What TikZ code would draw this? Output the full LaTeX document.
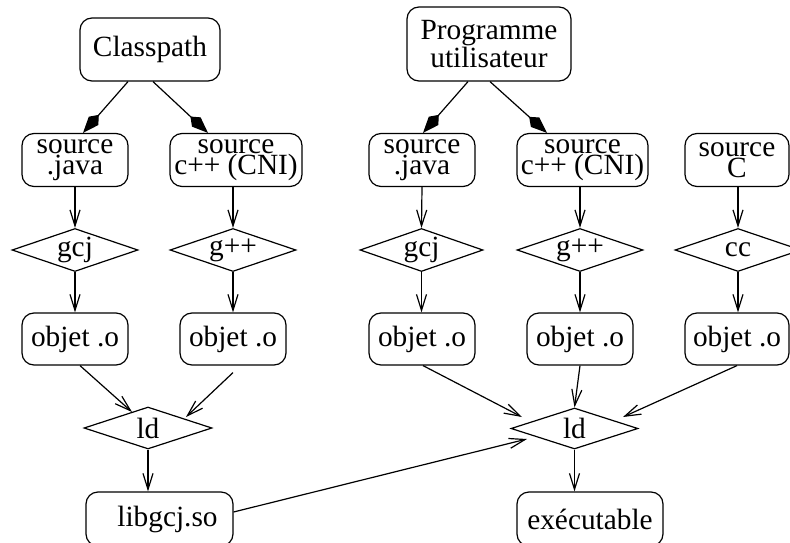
\documentclass[tikz,border=0pt]{standalone}
\usepackage{fontspec}
\setmainfont{Liberation Serif}
\usetikzlibrary{shapes.geometric,arrows.meta,calc}
\begin{document}
\begin{tikzpicture}[x=0.75pt,y=-0.75pt,
  line width=0.9pt,
  font=\fontsize{22}{16}\selectfont,
  sz/.style 2 args={minimum width=#1*0.75pt, minimum height=#2*0.75pt},
  box/.style={draw, rounded corners=9pt, inner sep=0pt, align=center},
  tool/.style={draw, diamond, shape aspect=3, inner sep=0pt},
  flow/.style={-{Straight Barb[length=12pt,width=7.5pt]}},
  owns/.style={-{Kite[length=18pt,width=9.5pt,inset=6pt]}},
]
\useasboundingbox (0,0) rectangle (790,543);

% sources of the two builds
\node[box,sz={140}{63}] (cp) at (150,49.5) {Classpath};
\node[box,sz={164}{74},font=\fontsize{22}{21}\selectfont] (pu) at (489,44) {Programme\\utilisateur};

% source files
\node[box,sz={106}{53}] (sj1) at (75,160)  {source\\.java};
\node[box,sz={132}{53}] (sc1) at (236,160) {source\\c++ (CNI)};
\node[box,sz={106}{53}] (sj2) at (422,160) {source\\.java};
\node[box,sz={131}{53}] (sc2) at (582.5,160) {source\\c++ (CNI)};
\node[box,sz={104}{53}] (sC)  at (737,160) {source\\C};

% compilers
\node[tool,sz={126}{43}] (d1) at (75,250)    {gcj};
\node[tool,sz={126}{43}] (d2) at (233,250)   {g++};
\node[tool,sz={123}{43}] (d3) at (421.5,250) {gcj};
\node[tool,sz={126}{43}] (d4) at (580,250)   {g++};
\node[tool,sz={126}{43}] (d5) at (738,250)   {cc};

% object files
\node[box,sz={106}{52}] (o1) at (75,339)  {objet .o};
\node[box,sz={106}{52}] (o2) at (233,339) {objet .o};
\node[box,sz={106}{52}] (o3) at (422,339) {objet .o};
\node[box,sz={106}{52}] (o4) at (580,339) {objet .o};
\node[box,sz={104}{52}] (o5) at (737,339) {objet .o};

% linkers
\node[tool,sz={128}{42}] (ld1) at (148,428)   {ld};
\node[tool,sz={127}{41}] (ld2) at (574.5,428.5) {ld};

% results
\node[box,sz={147}{54}] (lib) at (159.5,519) {\hspace{12pt}libgcj.so};
\node[box,sz={146}{54}] (exe) at (590,519)   {exécutable};

% ownership links
\draw[owns] ($(cp.south)+(-22,0)$) -- ($(sj1.north)+(8,0)$);
\draw[owns] ($(cp.south)+(3,0)$)   -- ($(sc1.north)+(-28,0)$);
\draw[owns] ($(pu.south)+(-21,0)$) -- ($(sj2.north)+(1,0)$);
\draw[owns] ($(pu.south)+(1,0)$)   -- ($(sc2.north)+(-35.5,0)$);

% compilation
\draw[flow] (sj1.south) -- (d1.north);
\draw[flow] (d2.north |- sc1.south) -- (d2.north);
\draw[flow] (sj2.south) -- (d3.north);
\draw[flow] (d4.north |- sc2.south) -- (d4.north);
\draw[flow] (d5.north |- sC.south) -- (d5.north);
\draw[flow] (d1.south) -- (o1.north);
\draw[flow] (d2.south) -- (o2.north);
\draw[flow] (d3.south) -- (d3.south |- o3.north);
\draw[flow] (d4.south) -- (o4.north);
\draw[flow] (d5.south) -- (d5.south |- o5.north);

% linking
\draw[flow] ($(o1.south)+(5,0)$) -- ($(ld1)+(-16,-16)$);
\draw[flow] ($(o2.south)+(0,7)$) -- ($(ld1)+(38,-11)$);
\draw[flow] ($(o3.south)+(1,0)$) -- ($(ld2)+(-52.5,-11.5)$);
\draw[flow] (o4.south) -- (ld2.north);
\draw[flow] (o5.south) -- ($(ld2)+(48.5,-11.5)$);
\draw[flow] ($(lib.east)+(0,-7)$) -- ($(ld2)+(-47.5,10.5)$);
\draw[flow] (ld1.south) -- (ld1.south |- lib.north);
\draw[flow] (ld2.south) -- (ld2.south |- exe.north);
\end{tikzpicture}
\end{document}
